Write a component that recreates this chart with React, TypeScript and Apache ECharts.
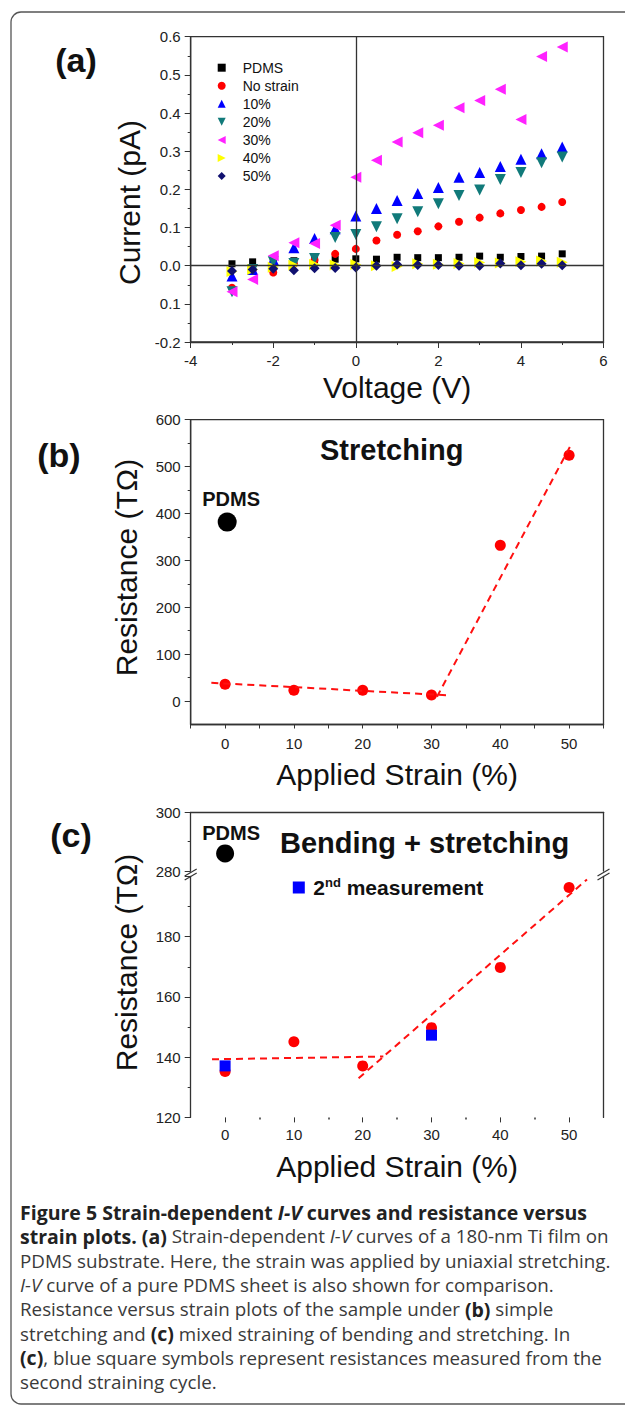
import React, { useEffect, useRef } from 'react';
import * as echarts from 'echarts';

// ---------- Panel (a): I-V curves ----------
const voltage = [-3, -2.5, -2, -1.5, -1, -0.5, 0, 0.5, 1, 1.5, 2, 2.5, 3, 3.5, 4, 4.5, 5];
const ivPDMS = [0.005, 0.010, 0.012, 0.013, 0.015, 0.017, 0.018, 0.017, 0.022, 0.021, 0.021, 0.022, 0.025, 0.022, 0.024, 0.025, 0.031];
const ivNoStrain = [-0.058, -0.012, -0.018, 0.004, 0.015, 0.031, 0.044, 0.066, 0.081, 0.090, 0.103, 0.115, 0.126, 0.137, 0.146, 0.154, 0.167];
const iv10 = [-0.027, -0.010, 0.016, 0.047, 0.071, 0.097, 0.130, 0.150, 0.171, 0.189, 0.205, 0.232, 0.244, 0.260, 0.279, 0.293, 0.311];
const iv20 = [-0.068, -0.010, 0.010, 0.006, 0.019, 0.074, 0.082, 0.102, 0.123, 0.141, 0.162, 0.184, 0.198, 0.226, 0.244, 0.270, 0.285];
const iv30 = [-0.068, -0.036, 0.026, 0.060, 0.058, 0.106, 0.232, 0.276, 0.324, 0.348, 0.368, 0.414, 0.433, 0.462, 0.383, 0.548, 0.573];
const iv40 = [-0.015, -0.010, -0.004, 0.001, 0.003, 0.002, 0.003, 0.000, -0.002, 0.005, 0.004, 0.006, 0.008, 0.007, 0.010, 0.012, 0.009];
const iv50 = [-0.014, -0.010, -0.008, -0.012, -0.007, -0.006, -0.005, 0.000, 0.003, 0.002, 0.002, 0.000, 0.000, 0.006, 0.001, 0.005, 0.001];
const ivNames = ['PDMS', 'No strain', '10%', '20%', '30%', '40%', '50%'];
const yTicksA = [-0.2, -0.1, 0, 0.1, 0.2, 0.3, 0.4, 0.5, 0.6];
const yTickLabelsA = ['-0.2', '0.1', '0.0', '0.1', '0.2', '0.3', '0.4', '0.5', '0.6'];

// ---------- Panel (b): stretching ----------
const strainPct = [0, 10, 20, 30, 40, 50];
const resStretch = [36, 23, 23, 13, 332, 524];
const pdmsStrainB = [0.3];
const pdmsResB = [382];
const fitB1 = [[-2, 39], [32.7, 12]];
const fitB2 = [[30.8, 9], [50.4, 550]];
const yLabelsB = [0, 100, 200, 300, 400, 500, 600];
const yMinorB = [50, 150, 250, 350, 450, 550];

// ---------- Panel (c): bending + stretching ----------
const resBend = [135.2, 145.1, 137.1, 149.8, 169.8, 196.3];
const secondStrain = [0, 30];
const secondRes = [137.1, 147.3];
const pdmsStrainC = [0];
const pdmsResC = [286];
const fitC1 = [[-1.9, 139.3], [23, 140.2]];
const fitC2 = [[19.4, 133], [52.6, 199]];
const xLabelsStrain = [0, 10, 20, 30, 40, 50];
const xMinorStrain = [5, 15, 25, 35, 45];

const captionLines = [
  '{b|Figure 5 Strain-dependent }{bi|I-V}{b| curves and resistance versus}',
  '{b|strain plots. (a)} Strain-dependent {i|I-V} curves of a 180-nm Ti film on',
  'PDMS substrate. Here, the strain was applied by uniaxial stretching.',
  '{i|I-V} curve of a pure PDMS sheet is also shown for comparison.',
  'Resistance versus strain plots of the sample under {b|(b)} simple',
  'stretching and {b|(c)} mixed straining of bending and stretching. In',
  '{b|(c)}, blue square symbols represent resistances measured from the',
  'second straining cycle.',
];

const FONT = '"Liberation Sans", Arial, sans-serif';
const CAP_FONT = '"Open Sans", sans-serif';
const AXIS_COLOR = '#333';
const LABEL = { fontSize: 15, fontFamily: FONT, color: '#222' };

const ICON_UP = 'path://M0,10L5,0L10,10Z';
const ICON_DOWN = 'path://M0,0L10,0L5,10Z';
const ICON_LEFT = 'path://M10,0L10,10L0,5Z';
const ICON_RIGHT = 'path://M0,0L0,10L10,5Z';

const ivStyles = [
  { symbol: 'rect', size: 7, rotate: 0, color: '#000000', icon: 'rect' },
  { symbol: 'circle', size: 8, rotate: 0, color: '#ff0000', icon: 'circle' },
  { symbol: 'triangle', size: 11, rotate: 0, color: '#0000ff', icon: ICON_UP },
  { symbol: 'triangle', size: 11, rotate: 180, color: '#117a7a', icon: ICON_DOWN },
  { symbol: 'triangle', size: 11, rotate: 90, color: '#ff22ff', icon: ICON_LEFT },
  { symbol: 'triangle', size: 11, rotate: -90, color: '#ffff00', icon: ICON_RIGHT },
  { symbol: 'diamond', size: 10, rotate: 0, color: '#101070', icon: 'diamond' },
];
const ivData = [ivPDMS, ivNoStrain, iv10, iv20, iv30, iv40, iv50];

function zip(xs: number[], ys: number[]) {
  return xs.map((x, i) => [x, ys[i]]);
}

function buildOption() {
  const gridLeft = 190.7;
  const gridWidth = 412.8;
  const grids = [
    { left: gridLeft, top: 36.7, width: gridWidth, height: 305.3, show: true, borderColor: AXIS_COLOR, borderWidth: 1.3 },
    { left: gridLeft, top: 419.7, width: gridWidth, height: 304.8, show: true, borderColor: AXIS_COLOR, borderWidth: 1.3 },
    { left: gridLeft, top: 812.3, width: gridWidth, height: 58.7 },
    { left: gridLeft, top: 876.4, width: gridWidth, height: 241 },
  ];
  const line = { show: true, onZero: false, lineStyle: { color: AXIS_COLOR, width: 1.3 } };
  const nameStyle = { fontSize: 30, fontFamily: FONT, color: '#111' };

  const xAxis: any[] = [
    {
      gridIndex: 0, type: 'value', min: -4, max: 6, interval: 2, position: 'bottom',
      axisLine: line, axisTick: { length: 6, lineStyle: { color: AXIS_COLOR } },
      minorTick: { show: true, splitNumber: 2, length: 3, lineStyle: { color: AXIS_COLOR } },
      axisLabel: { ...LABEL, margin: 11 }, splitLine: { show: false },
      name: 'Voltage (V)', nameLocation: 'middle', nameGap: 30, nameTextStyle: nameStyle,
    },
    {
      gridIndex: 1, type: 'value', min: -5, max: 55, interval: 5, position: 'bottom',
      axisLine: line, axisTick: { length: 4, lineStyle: { color: AXIS_COLOR } },
      axisLabel: { ...LABEL, margin: 11, formatter: (v: number) => (v % 10 === 0 ? String(v) : '') },
      splitLine: { show: false },
      name: 'Applied Strain (%)', nameLocation: 'middle', nameGap: 35, nameTextStyle: nameStyle,
    },
    {
      gridIndex: 2, type: 'value', min: -5, max: 55, position: 'top',
      axisLine: line, axisTick: { show: false }, axisLabel: { show: false }, splitLine: { show: false },
    },
    {
      gridIndex: 3, type: 'value', min: -5, max: 55, interval: 5, position: 'bottom',
      axisLine: { show: false, onZero: false },
      axisTick: { length: 5, customValues: xLabelsStrain, lineStyle: { color: AXIS_COLOR } },
      axisLabel: { ...LABEL, margin: 10, customValues: xLabelsStrain, formatter: (v: number) => (v % 10 === 0 ? String(v) : '') },
      splitLine: { show: false },
      name: 'Applied Strain (%)', nameLocation: 'middle', nameGap: 34, nameTextStyle: nameStyle,
    },
    {
      gridIndex: 3, type: 'value', min: -5, max: 55, position: 'bottom',
      axisLine: { show: false, onZero: false },
      axisTick: { length: 2, customValues: xMinorStrain, lineStyle: { color: AXIS_COLOR, width: 1.5 } },
      axisLabel: { show: false }, splitLine: { show: false },
    },
  ];

  const yAxis: any[] = [
    {
      gridIndex: 0, type: 'value', min: -0.2, max: 0.6, interval: 0.1, position: 'left',
      axisLine: line, axisTick: { length: 6, lineStyle: { color: AXIS_COLOR } },
      minorTick: { show: true, splitNumber: 2, length: 3, lineStyle: { color: AXIS_COLOR } },
      axisLabel: {
        ...LABEL, margin: 10,
        formatter: (v: number) => {
          const idx = yTicksA.findIndex((t) => Math.abs(t - v) < 1e-6);
          return idx >= 0 ? yTickLabelsA[idx] : '';
        },
      },
      splitLine: { show: false },
    },
    {
      gridIndex: 1, type: 'value', min: -50, max: 600, position: 'left',
      axisLine: line, axisTick: { length: 6, customValues: yLabelsB, lineStyle: { color: AXIS_COLOR } },
      axisLabel: { ...LABEL, margin: 10, customValues: yLabelsB },
      splitLine: { show: false },
    },
    {
      gridIndex: 1, type: 'value', min: -50, max: 600, position: 'left',
      axisLine: { show: false, onZero: false },
      axisTick: { length: 3, customValues: yMinorB, lineStyle: { color: AXIS_COLOR } },
      axisLabel: { show: false }, splitLine: { show: false },
    },
    {
      gridIndex: 2, type: 'value', min: 280, max: 300, interval: 20, position: 'left',
      axisLine: line, axisTick: { length: 6, lineStyle: { color: AXIS_COLOR } },
      minorTick: { show: true, splitNumber: 2, length: 3, lineStyle: { color: AXIS_COLOR } },
      axisLabel: { ...LABEL, margin: 10 }, splitLine: { show: false },
    },
    {
      gridIndex: 2, type: 'value', min: 280, max: 300, position: 'right',
      axisLine: line, axisTick: { show: false }, axisLabel: { show: false }, splitLine: { show: false },
    },
    {
      gridIndex: 3, type: 'value', min: 120, max: 200, interval: 20, position: 'left',
      axisLine: line, axisTick: { length: 6, lineStyle: { color: AXIS_COLOR } },
      minorTick: { show: true, splitNumber: 2, length: 3, lineStyle: { color: AXIS_COLOR } },
      axisLabel: { ...LABEL, margin: 10, formatter: (v: number) => (v === 200 ? '' : String(v)) },
      splitLine: { show: false },
    },
    {
      gridIndex: 3, type: 'value', min: 120, max: 200, position: 'right',
      axisLine: line, axisTick: { show: false }, axisLabel: { show: false }, splitLine: { show: false },
    },
  ];

  const series: any[] = [];
  ivNames.forEach((name, i) => {
    const st = ivStyles[i];
    const s: any = {
      name, type: 'scatter', xAxisIndex: 0, yAxisIndex: 0,
      symbol: st.symbol, symbolSize: st.size, symbolRotate: st.rotate,
      itemStyle: { color: st.color, opacity: 1 },
      data: zip(voltage, ivData[i]),
    };
    if (i === 0) {
      s.markLine = {
        silent: true, symbol: 'none', label: { show: false },
        lineStyle: { color: AXIS_COLOR, width: 1.3, type: 'solid' },
        data: [{ xAxis: 0 }, { yAxis: 0 }],
      };
    }
    series.push(s);
  });

  const dashed = { color: '#ff1010', width: 2, type: [7, 5] };
  series.push(
    { name: 'Fit low (b)', type: 'line', xAxisIndex: 1, yAxisIndex: 1, data: fitB1, symbol: 'none', lineStyle: dashed },
    { name: 'Fit high (b)', type: 'line', xAxisIndex: 1, yAxisIndex: 1, data: fitB2, symbol: 'none', lineStyle: dashed },
    {
      name: 'Stretching', type: 'scatter', xAxisIndex: 1, yAxisIndex: 1, symbol: 'circle', symbolSize: 11,
      itemStyle: { color: '#ff0000', opacity: 1 }, data: zip(strainPct, resStretch),
    },
    {
      name: 'PDMS (b)', type: 'scatter', xAxisIndex: 1, yAxisIndex: 1, symbol: 'circle', symbolSize: 19,
      itemStyle: { color: '#000', opacity: 1 }, data: zip(pdmsStrainB, pdmsResB),
      label: { show: true, position: 'top', distance: 3, offset: [4, 0], formatter: 'PDMS', fontSize: 20, fontWeight: 'bold', fontFamily: FONT, color: '#111' },
    },
    {
      name: 'PDMS (c)', type: 'scatter', xAxisIndex: 2, yAxisIndex: 3, symbol: 'circle', symbolSize: 18,
      itemStyle: { color: '#000', opacity: 1 }, data: zip(pdmsStrainC, pdmsResC),
      label: { show: true, position: 'top', distance: 1, offset: [6, 0], formatter: 'PDMS', fontSize: 20, fontWeight: 'bold', fontFamily: FONT, color: '#111' },
    },
    { name: 'Fit low (c)', type: 'line', xAxisIndex: 3, yAxisIndex: 5, data: fitC1, symbol: 'none', lineStyle: dashed },
    { name: 'Fit high (c)', type: 'line', xAxisIndex: 3, yAxisIndex: 5, data: fitC2, symbol: 'none', lineStyle: dashed },
    {
      name: 'Bending + stretching', type: 'scatter', xAxisIndex: 3, yAxisIndex: 5, symbol: 'circle', symbolSize: 11,
      itemStyle: { color: '#ff0000', opacity: 1 }, data: zip(strainPct, resBend),
    },
    {
      name: '2nd measurement', type: 'scatter', xAxisIndex: 3, yAxisIndex: 5, symbol: 'rect', symbolSize: 11,
      itemStyle: { color: '#0000ff', opacity: 1 }, data: zip(secondStrain, secondRes),
    },
  );

  const legend: any[] = [
    {
      data: ivNames.map((name, i) => ({ name, icon: ivStyles[i].icon })),
      orient: 'vertical', left: 217.7, top: 60.7, padding: 0, symbolRotate: 0,
      itemWidth: 8, itemHeight: 8, itemGap: 4.05, selectedMode: false,
      textStyle: { fontSize: 14, fontFamily: FONT, color: '#111', lineHeight: 14, padding: [0, 0, 0, 12] },
    },
    {
      data: ['2nd measurement'], orient: 'vertical', left: 292.8, top: 875.5, padding: 0,
      itemWidth: 12, itemHeight: 12, selectedMode: false,
      formatter: () => '{m|2}{s|nd}{m| measurement}',
      textStyle: {
        padding: [0, 0, 0, 3.5], lineHeight: 24,
        rich: {
          m: { fontSize: 21, fontWeight: 'bold', fontFamily: FONT, color: '#111', lineHeight: 24 },
          s: { fontSize: 13, fontWeight: 'bold', fontFamily: FONT, color: '#111', verticalAlign: 'top', lineHeight: 14 },
        },
      },
    },
  ];

  const txt = (text: string, x: number, y: number, size: number, extra: any = {}) => ({
    type: 'text', silent: true,
    style: { text, x, y, fontSize: size, fontFamily: FONT, fill: '#111', textAlign: 'center', textVerticalAlign: 'middle', ...extra },
  });
  const rotTitle = (text: string, x: number, y: number) => ({
    type: 'text', silent: true, x, y, rotation: Math.PI / 2,
    style: { text, x: 0, y: 0, fontSize: 30, fontFamily: FONT, fill: '#111', textAlign: 'center', textVerticalAlign: 'middle' },
  });
  const brk = (x: number) => [
    { type: 'line', silent: true, shape: { x1: x - 6, y1: 876, x2: x + 6, y2: 869 }, style: { stroke: AXIS_COLOR, lineWidth: 1.2 } },
    { type: 'line', silent: true, shape: { x1: x - 6, y1: 880, x2: x + 6, y2: 873 }, style: { stroke: AXIS_COLOR, lineWidth: 1.2 } },
  ];

  const CAP_SIZE = 18.8;
  const CAP_BOLD = 19.5;
  const CAP_LH = 21;
  const capRich = {
    b: { fontFamily: CAP_FONT, fontSize: CAP_BOLD, fontWeight: 'bold', fill: '#222', lineHeight: CAP_LH },
    bi: { fontFamily: CAP_FONT, fontSize: CAP_BOLD, fontWeight: 'bold', fontStyle: 'italic', fill: '#222', lineHeight: CAP_LH },
    i: { fontFamily: CAP_FONT, fontSize: CAP_SIZE, fontStyle: 'italic', fill: '#3a3a3a', lineHeight: CAP_LH },
  };
  const caption = captionLines.map((ln, k) => ({
    type: 'text', silent: true,
    style: {
      text: ln, x: 20, y: 1212 + k * 24.3, fontFamily: CAP_FONT, fontSize: CAP_SIZE, fill: '#3a3a3a',
      lineHeight: CAP_LH, textAlign: 'left', textVerticalAlign: 'middle', rich: capRich,
    },
  }));

  const graphic: any[] = [
    {
      type: 'rect', silent: true, shape: { x: 11, y: 12, width: 700, height: 1392, r: 10 },
      style: { fill: 'none', stroke: '#555', lineWidth: 1.3 }, z: -10,
    },
    txt('(a)', 76, 60, 34, { fontWeight: 'bold' }),
    txt('(b)', 59, 455, 34, { fontWeight: 'bold' }),
    txt('(c)', 71, 835, 34, { fontWeight: 'bold' }),
    txt('Stretching', 320, 450, 29, { fontWeight: 'bold', textAlign: 'left' }),
    txt('Bending + stretching', 280, 843, 29, { fontWeight: 'bold', textAlign: 'left' }),
    rotTitle('Current (pA)', 129, 202.5),
    rotTitle('Resistance (TΩ)', 126, 567.5),
    rotTitle('Resistance (TΩ)', 126, 962.5),
    ...brk(190.7),
    ...brk(603.5),
    ...caption,
  ];

  return {
    animation: false,
    backgroundColor: '#ffffff',
    textStyle: { fontFamily: FONT },
    grid: grids,
    xAxis,
    yAxis,
    legend,
    series,
    graphic,
  };
}

export default function App() {
  const ref = useRef<HTMLDivElement>(null);
  useEffect(() => {
    const chart = echarts.init(ref.current as HTMLDivElement, null, { renderer: 'svg' });
    chart.setOption(buildOption() as any);
    return () => chart.dispose();
  }, []);
  return (
    <div
      ref={ref}
      style={{ position: 'absolute', left: 0, top: 0, width: 625, height: 1414, background: '#fff' }}
    />
  );
}
